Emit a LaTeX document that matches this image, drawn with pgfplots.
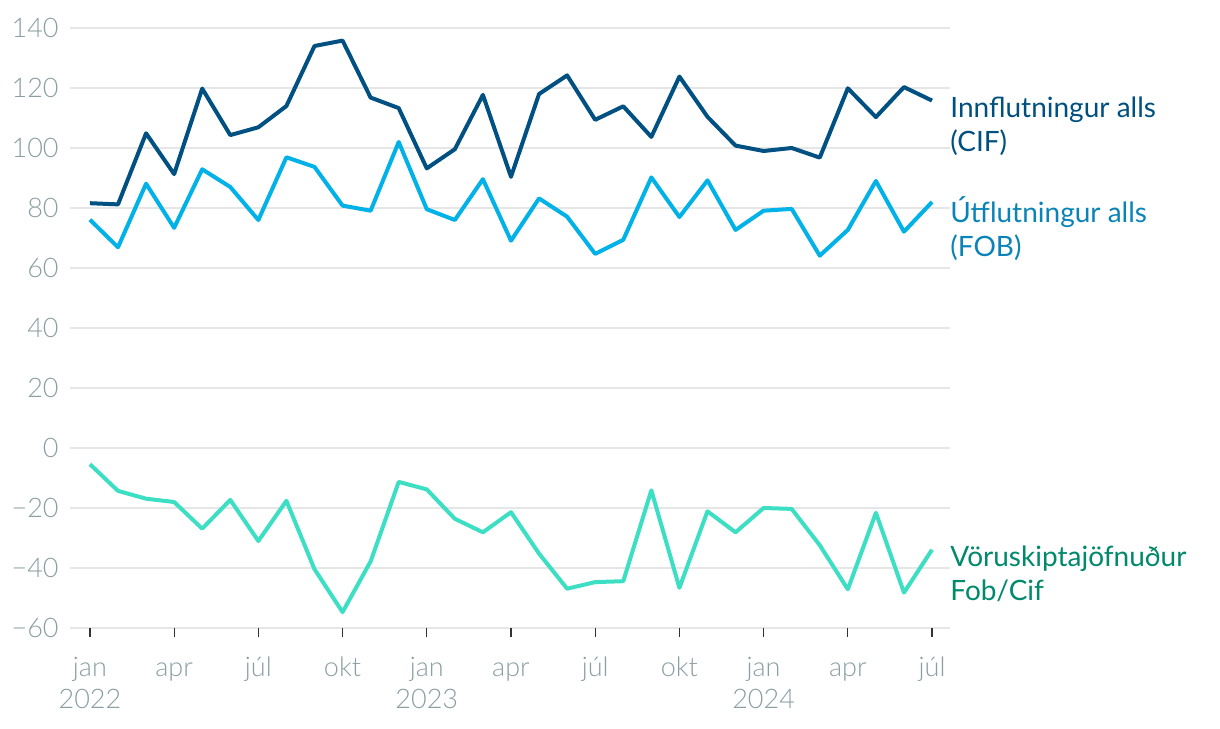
\documentclass[border=0pt]{standalone}
\usepackage{fontspec}
\setmainfont{Lato}
\newfontfamily\lightfont{Lato Light}
\usepackage{pgfplots}
\pgfplotsset{compat=1.18}
\definecolor{imp}{HTML}{005082}
\definecolor{exp}{HTML}{00B2E8}
\definecolor{bal}{HTML}{3CDFC3}
\definecolor{implab}{HTML}{00507F}
\definecolor{explab}{HTML}{0A84B8}
\definecolor{ballab}{HTML}{00896B}
\definecolor{ticklab}{HTML}{8A9EA3}
\definecolor{gridc}{HTML}{E6E6E6}
\begin{document}
\begin{tikzpicture}
\useasboundingbox (-35pt,-50pt) rectangle (575pt,314pt);
\begin{axis}[
  scale only axis,
  width=440pt, height=300pt,
  xmin=-0.71, xmax=30.64,
  ymin=-60, ymax=140,
  axis line style={draw=none},
  ytick={-60,-40,-20,0,20,40,60,80,100,120,140},
  yticklabels={−60,−40,−20,0,20,40,60,80,100,120,140},
  ymajorgrids,
  major grid style={color=gridc, line width=0.65pt},
  ytick style={draw=none},
  yticklabel style={anchor=east, inner sep=0pt, xshift=-1pt, font=\fontsize{13.5}{16}\lightfont, text=ticklab},
  xtick={0,3,...,30},
  xticklabels={jan,apr,júl,okt,jan,apr,júl,okt,jan,apr,júl},
  tick align=outside,
  xtick pos=bottom,
  xtick style={draw=black!80, line width=0.6pt},
  major tick length=4.5pt,
  xticklabel style={anchor=base, inner sep=0pt, yshift=-19.5pt, font=\fontsize{13.5}{16}\lightfont, text=ticklab},
  extra x ticks={0,12,24},
  extra x tick labels={2022,2023,2024},
  extra x tick style={major tick length=0pt, xticklabel style={yshift=-20.5pt}},
  extra y ticks={0},
  extra y tick labels={},
  extra y tick style={grid style={color=black!85, line width=0.7pt}},
  clip=false,
]
% Innflutningur alls (CIF)
\addplot[imp, line width=2pt, line join=round] coordinates {
(0,81.6) (1,81.2) (2,104.9) (3,91.3) (4,119.8) (5,104.3) (6,106.9) (7,114.0) (8,134.0) (9,135.8) (10,116.8) (11,113.3)
(12,93.2) (13,99.6) (14,117.7) (15,90.4) (16,118.0) (17,124.2) (18,109.4) (19,113.9) (20,103.7) (21,123.8) (22,110.4) (23,100.8)
(24,99.0) (25,100.0) (26,96.8) (27,119.9) (28,110.3) (29,120.3) (30,115.8)
};
% Utflutningur alls (FOB)
\addplot[exp, line width=2pt, line join=round] coordinates {
(0,76.1) (1,66.9) (2,88.1) (3,73.4) (4,92.9) (5,87.0) (6,76.0) (7,96.9) (8,93.7) (9,80.8) (10,79.1) (11,102.0)
(12,79.6) (13,76.0) (14,89.6) (15,69.1) (16,83.2) (17,77.1) (18,64.7) (19,69.4) (20,90.2) (21,77.0) (22,89.2) (23,72.7)
(24,79.1) (25,79.7) (26,64.1) (27,72.7) (28,89.0) (29,72.1) (30,82.0)
};
% Voruskiptajofnudur
\addplot[bal, line width=2pt, line join=round] coordinates {
(0,-5.4) (1,-14.3) (2,-16.9) (3,-18.0) (4,-26.9) (5,-17.3) (6,-31.0) (7,-17.6) (8,-40.4) (9,-54.7) (10,-37.8) (11,-11.3)
(12,-13.8) (13,-23.6) (14,-28.1) (15,-21.4) (16,-35.2) (17,-46.9) (18,-44.7) (19,-44.4) (20,-14.1) (21,-46.6) (22,-21.1) (23,-28.1)
(24,-20.0) (25,-20.3) (26,-32.4) (27,-47.1) (28,-21.6) (29,-48.2) (30,-33.9)
};
\node[anchor=west, align=left, inner sep=0pt, text=implab, font=\fontsize{14}{17}\selectfont] at (axis cs:30.64,107.3) {Innflutningur alls\\(CIF)};
\node[anchor=west, align=left, inner sep=0pt, text=explab, font=\fontsize{14}{17}\selectfont] at (axis cs:30.64,73.3) {Útflutningur alls\\(FOB)};
\node[anchor=west, align=left, inner sep=0pt, text=ballab, font=\fontsize{14}{17}\selectfont] at (axis cs:30.64,-42) {Vöruskiptajöfnuður\\Fob/Cif};
\end{axis}
\end{tikzpicture}
\end{document}
